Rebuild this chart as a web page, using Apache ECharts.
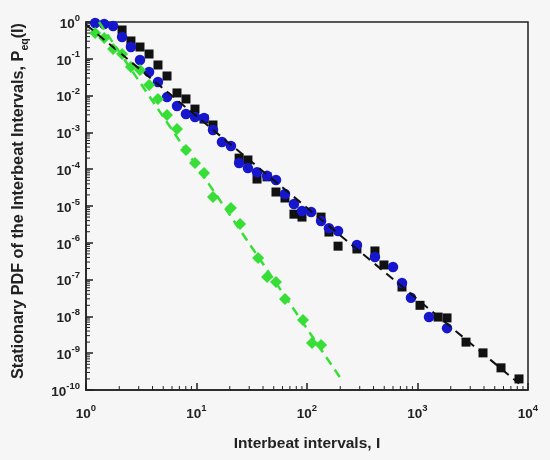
<!DOCTYPE html>
<html><head><meta charset="utf-8">
<script src="https://cdn.jsdelivr.net/npm/echarts@6/dist/echarts.min.js"></script>
<style>html,body{margin:0;padding:0;background:#f6f6f6}#c{width:550px;height:460px}</style>
</head><body><div id="c"></div><script>
// Data
const blackX = [2.12,2.55,3.08,3.72,4.48,5.41,6.66,8.03,9.69,11.7,14.1,24.3,29.2,35.3,43.5,52.4,63.2,76.2,90.1,134,158,191,283,412,497,724,1054,1534,1850,2748,3917,5699,8292];
const blackY = [0.606,0.305,0.209,0.135,0.0679,0.0341,0.0118,8.1e-3,4.3e-3,2.31e-3,1.59e-3,2.0e-4,1.78e-4,5.4e-5,6.2e-5,2.4e-5,1.65e-5,6.0e-6,5.0e-6,5.0e-6,1.96e-6,8.1e-7,6.8e-7,6.0e-7,2.5e-7,6.3e-8,2.0e-8,9.6e-9,9.1e-9,2.0e-9,1.02e-9,4.0e-10,2.0e-10];
const blueX = [1.21,1.46,1.76,2.12,2.55,3.08,3.72,4.48,5.41,6.66,8.03,9.69,11.7,14.1,17.0,20.5,24.3,29.2,35.3,43.5,52.4,63.2,76.2,90.1,109,134,158,191,283,412,600,724,873,1271,1850];
const blueY = [0.94,0.88,0.78,0.391,0.209,0.0927,0.0438,0.0234,9.1e-3,5.2e-3,3.16e-3,2.63e-3,2.46e-3,1.16e-3,5.5e-4,4.27e-4,1.48e-4,1.07e-4,8.3e-5,6.6e-5,5.1e-5,2.13e-5,1.13e-5,7.3e-6,6.9e-6,3.9e-6,2.5e-6,2.1e-6,8.7e-7,4.1e-7,2.2e-7,8.1e-8,3.2e-8,9.6e-9,4.8e-9];
const greenX = [1.21,1.46,1.76,2.12,2.55,3.08,3.72,4.48,5.41,6.66,8.03,9.69,11.7,14.1,20.5,24.8,36.1,43.5,52.4,63.2,92.0,111,134];
const greenY = [0.50,0.367,0.185,0.135,0.0598,0.0497,0.0194,8.09e-3,2.97e-3,1.24e-3,3.33e-4,1.47e-4,7.89e-5,1.76e-5,8.83e-6,3.24e-6,3.86e-7,1.18e-7,8.61e-8,2.97e-8,7.98e-9,1.89e-9,1.67e-9];
// dashed fit lines (end points)
const blackFitX = [1.0, 8300];
const blackFitY = [0.85, 1.5e-10];
const greenFitX = [1.31, 212];
const greenFitY = [1.0, 1.66e-10];
// axis ranges
const xMin = 1, xMax = 1e4, yMin = 1e-10, yMax = 1;

const zip = (a, b) => a.map((v, i) => [v, b[i]]);
// minor tick positions (2..9 x 10^k)
const minorXs = [], minorYs = [];
for (let k = 0; k < 4; k++) for (let m = 2; m <= 9; m++) minorXs.push([m * Math.pow(10, k), yMin]);
for (let k = -10; k < 0; k++) for (let m = 2; m <= 9; m++) minorYs.push([xMin, m * Math.pow(10, k)]);

const FONT = 'Liberation Sans';
const fmt = v => '{b|10}{s|' + Math.round(Math.log10(v)) + '}';
const labelRich = {
  b: {fontSize: 13.5, fontWeight: 'bold', fontFamily: FONT, color: '#222', lineHeight: 18, verticalAlign: 'bottom'},
  s: {fontSize: 9.5, fontWeight: 'bold', fontFamily: FONT, color: '#222', lineHeight: 18, verticalAlign: 'top'}
};
const tickSeries = (data, dir) => ({
  type: 'custom', data: data, silent: true, z: 5,
  renderItem: (params, api) => {
    const p = api.coord([api.value(0), api.value(1)]);
    const shape = dir === 'x' ? {x1: p[0], y1: p[1], x2: p[0], y2: p[1] - 4} : {x1: p[0], y1: p[1], x2: p[0] + 4, y2: p[1]};
    return {type: 'line', shape: shape, style: {stroke: '#222', lineWidth: 1}};
  }
});

const chart = echarts.init(document.getElementById('c'));
chart.setOption({
  backgroundColor: '#f6f6f6',
  animation: false,
  grid: {left: 86, right: 22, top: 22, bottom: 70, show: true, borderColor: '#222', borderWidth: 1.5, backgroundColor: 'transparent'},
  xAxis: {
    type: 'log', logBase: 10, min: xMin, max: xMax, interval: 1,
    axisLine: {lineStyle: {color: '#222', width: 1.5}},
    axisTick: {inside: true, length: 7, lineStyle: {color: '#222', width: 1.5}},
    axisLabel: {formatter: fmt, rich: labelRich, margin: 13},
    splitLine: {show: false},
    name: 'Interbeat intervals, I', nameLocation: 'middle', nameGap: 46,
    nameTextStyle: {fontSize: 15.5, fontWeight: 'bold', fontFamily: FONT, color: '#222'}
  },
  yAxis: {
    type: 'log', logBase: 10, min: yMin, max: yMax, interval: 1,
    axisLine: {lineStyle: {color: '#222', width: 1.5}},
    axisTick: {inside: true, length: 7, lineStyle: {color: '#222', width: 1.5}},
    axisLabel: {formatter: fmt, rich: labelRich, margin: 6},
    splitLine: {show: false},
    name: '{t|Stationary PDF of the Interbeat Intervals, P}{sub|eq}{t|(I)}',
    nameLocation: 'middle', nameGap: 55, nameRotate: 90,
    nameTextStyle: {
      padding: [0, 0, 0, 10],
      rich: {
        t: {fontSize: 16.2, fontWeight: 'bold', fontFamily: FONT, color: '#222', lineHeight: 20, verticalAlign: 'top'},
        sub: {fontSize: 10.5, fontWeight: 'bold', fontFamily: FONT, color: '#222', lineHeight: 20, verticalAlign: 'bottom'}
      }
    }
  },
  series: [
    tickSeries(minorXs, 'x'),
    tickSeries(minorYs, 'y'),
    {type: 'scatter', data: zip(blackX, blackY), symbol: 'rect', symbolSize: 9, itemStyle: {color: '#111', opacity: 1}, z: 2},
    {type: 'scatter', data: zip(blueX, blueY), symbol: 'circle', symbolSize: 10.5, itemStyle: {color: '#1616cc', opacity: 1}, z: 3},
    {type: 'scatter', data: zip(greenX, greenY), symbol: 'diamond', symbolSize: 12, itemStyle: {color: '#36de36', opacity: 1}, z: 3},
    {type: 'line', data: zip(blackFitX, blackFitY), showSymbol: false, symbol: 'none', lineStyle: {color: '#111', width: 2, type: [9, 6]}, z: 4},
    {type: 'line', data: zip(greenFitX, greenFitY), showSymbol: false, symbol: 'none', lineStyle: {color: '#36de36', width: 2.5, type: [9, 6]}, z: 4}
  ]
});
</script></body></html>
